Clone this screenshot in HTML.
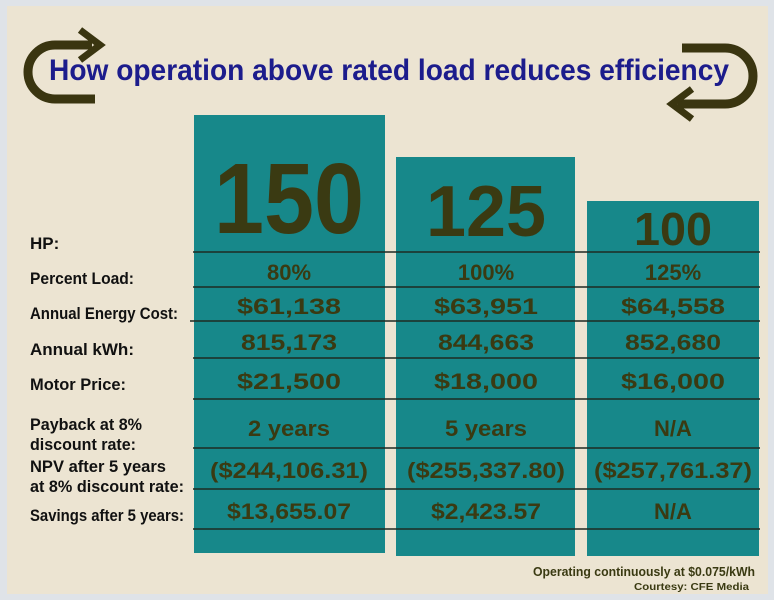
<!DOCTYPE html>
<html><head><meta charset="utf-8"><style>
body{margin:0;background:#fff;}
svg{display:block;}
text{font-family:"Liberation Sans",sans-serif;font-weight:bold;}
</style></head><body>
<svg width="774" height="600" viewBox="0 0 774 600">
<rect x="0" y="0" width="774" height="600" fill="#dfe3e8"/>
<rect x="7" y="6" width="761" height="588" fill="#ece4d2"/>
<!-- arrows -->
<g fill="none" stroke="#3a3510" stroke-width="9">
<path d="M92 45 H55 A27 27 0 0 0 55 99 H95"/>
<path d="M80 30 L100 45 L80 60" stroke-width="7"/>
</g>
<g fill="none" stroke="#3a3510" stroke-width="9">
<path d="M682 48 H725 A28 28 0 0 1 725 104 H678"/>
<path d="M692 89 L672 104 L692 119" stroke-width="7"/>
</g>
<text x="49" y="80" font-size="30" fill="#1c1c8c" textLength="680" lengthAdjust="spacingAndGlyphs">How operation above rated load reduces efficiency</text>
<!-- columns -->
<rect x="194" y="115" width="191" height="438" fill="#17888a"/>
<rect x="396" y="157" width="179" height="399" fill="#17888a"/>
<rect x="587" y="201" width="172" height="355" fill="#17888a"/>
<g stroke="#1f2a22" stroke-width="1.5">
<line x1="193" y1="252" x2="760" y2="252"/>
<line x1="193" y1="287" x2="760" y2="287"/>
<line x1="190" y1="321" x2="760" y2="321"/>
<line x1="193" y1="358" x2="760" y2="358"/>
<line x1="193" y1="399" x2="760" y2="399"/>
<line x1="193" y1="448" x2="760" y2="448"/>
<line x1="193" y1="489" x2="760" y2="489"/>
<line x1="193" y1="529" x2="760" y2="529"/>
</g>
<g fill="#3a3a12" text-anchor="middle">
<text x="289" y="233" font-size="100" textLength="150" lengthAdjust="spacingAndGlyphs">150</text>
<text x="486" y="236" font-size="72" textLength="120" lengthAdjust="spacingAndGlyphs">125</text>
<text x="673" y="245" font-size="46" textLength="78" lengthAdjust="spacingAndGlyphs">100</text>
</g>
<g fill="#3a3a12" font-size="22" text-anchor="middle">
<text x="289" y="280">80%</text><text x="486" y="280">100%</text><text x="673" y="280">125%</text>
<text x="289" y="314" textLength="104" lengthAdjust="spacingAndGlyphs">$61,138</text><text x="486" y="314" textLength="104" lengthAdjust="spacingAndGlyphs">$63,951</text><text x="673" y="314" textLength="104" lengthAdjust="spacingAndGlyphs">$64,558</text>
<text x="289" y="350" textLength="96" lengthAdjust="spacingAndGlyphs">815,173</text><text x="486" y="350" textLength="96" lengthAdjust="spacingAndGlyphs">844,663</text><text x="673" y="350" textLength="96" lengthAdjust="spacingAndGlyphs">852,680</text>
<text x="289" y="389" textLength="104" lengthAdjust="spacingAndGlyphs">$21,500</text><text x="486" y="389" textLength="104" lengthAdjust="spacingAndGlyphs">$18,000</text><text x="673" y="389" textLength="104" lengthAdjust="spacingAndGlyphs">$16,000</text>
<text x="289" y="436" textLength="82" lengthAdjust="spacingAndGlyphs">2 years</text><text x="486" y="436" textLength="82" lengthAdjust="spacingAndGlyphs">5 years</text><text x="673" y="436">N/A</text>
<text x="289" y="478" textLength="158" lengthAdjust="spacingAndGlyphs">($244,106.31)</text><text x="486" y="478" textLength="158" lengthAdjust="spacingAndGlyphs">($255,337.80)</text><text x="673" y="478" textLength="158" lengthAdjust="spacingAndGlyphs">($257,761.37)</text>
<text x="289" y="519" textLength="124" lengthAdjust="spacingAndGlyphs">$13,655.07</text><text x="486" y="519" textLength="110" lengthAdjust="spacingAndGlyphs">$2,423.57</text><text x="673" y="519">N/A</text>
</g>
<g fill="#111" font-size="17">
<text x="30" y="249">HP:</text>
<text x="30" y="284" textLength="104" lengthAdjust="spacingAndGlyphs">Percent Load:</text>
<text x="30" y="319" textLength="148" lengthAdjust="spacingAndGlyphs">Annual Energy Cost:</text>
<text x="30" y="355" textLength="104" lengthAdjust="spacingAndGlyphs">Annual kWh:</text>
<text x="30" y="390" textLength="96" lengthAdjust="spacingAndGlyphs">Motor Price:</text>
<text x="30" y="430" textLength="112" lengthAdjust="spacingAndGlyphs">Payback at 8%</text>
<text x="30" y="450" textLength="106" lengthAdjust="spacingAndGlyphs">discount rate:</text>
<text x="30" y="472" textLength="136" lengthAdjust="spacingAndGlyphs">NPV after 5 years</text>
<text x="30" y="492" textLength="154" lengthAdjust="spacingAndGlyphs">at 8% discount rate:</text>
<text x="30" y="521" textLength="154" lengthAdjust="spacingAndGlyphs">Savings after 5 years:</text>
</g>
<text x="755" y="576" font-size="13" fill="#3a3a12" text-anchor="end" textLength="222" lengthAdjust="spacingAndGlyphs">Operating continuously at $0.075/kWh</text>
<text x="749" y="590" font-size="10" fill="#3a3a12" text-anchor="end" textLength="115" lengthAdjust="spacingAndGlyphs">Courtesy: CFE Media</text>
</svg>
</body></html>
